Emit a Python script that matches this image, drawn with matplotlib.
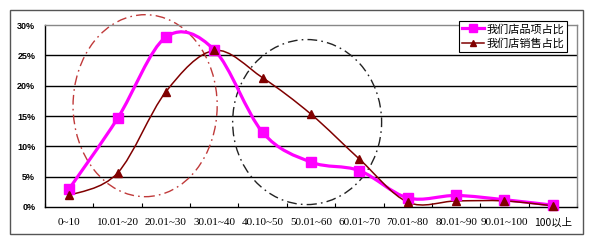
import matplotlib
matplotlib.use("Agg")
import matplotlib.pyplot as plt
import numpy as np
from matplotlib.path import Path
from matplotlib.patches import PathPatch, Ellipse, Rectangle
from matplotlib.lines import Line2D

# données
categories = ['0~10', '10.01~20', '20.01~30', '30.01~40', '40.10~50', '50.01~60',
              '60.01~70', '70.01~80', '80.01~90', '90.01~100', '100以上']
pinxiang = [3.0, 14.6, 28.0, 25.9, 12.3, 7.4, 6.0, 1.5, 1.9, 1.2, 0.3]
xiaoshou = [1.9, 5.6, 19.0, 25.8, 21.3, 15.3, 7.9, 0.8, 1.0, 1.0, 0.2]
yticks = [0, 5, 10, 15, 20, 25, 30]
noms = ['我们店品项占比', '我们店销售占比']

CJK = ['Noto Sans CJK SC', 'DejaVu Sans']
SERIF = ['Liberation Serif', 'Noto Sans CJK SC']


def courbe_lisse(x, y):
    # courbe de Bézier type "ligne lissée" d'Excel
    p = np.column_stack([x, y]).astype(float)
    n = len(p)
    verts = [p[0]]
    codes = [Path.MOVETO]
    for i in range(n - 1):
        p0 = p[i - 1] if i > 0 else p[i]
        p3 = p[i + 2] if i + 2 < n else p[i + 1]
        c1 = p[i] + (p[i + 1] - p0) / 6
        c2 = p[i + 1] - (p3 - p[i]) / 6
        verts += [c1, c2, p[i + 1]]
        codes += [Path.CURVE4] * 3
    return Path(verts, codes)


fig = plt.figure(figsize=(5.94, 2.41), dpi=100)
ax = fig.add_axes([45 / 594, 34 / 241, 532 / 594, 182 / 241])

# cadre extérieur
fig.patches.append(Rectangle((10 / 594, 7 / 241), 573 / 594, 224 / 241, transform=fig.transFigure,
                             fill=False, edgecolor='#555555', linewidth=1.0))

x = np.arange(len(categories))
ax.set_xlim(-0.5, len(categories) - 0.5)
ax.set_ylim(0, 30)

for v in yticks[1:-1]:
    ax.axhline(v, color='black', linewidth=1.0, zorder=1)

ax.add_patch(PathPatch(courbe_lisse(x, pinxiang), fill=False, edgecolor='#FF00FF',
                       linewidth=2.3, zorder=3))
ax.add_patch(PathPatch(courbe_lisse(x, xiaoshou), fill=False, edgecolor='#800000',
                       linewidth=1.1, zorder=4))
ax.plot(x, pinxiang, ls='none', marker='s', markersize=7, color='#FF00FF', zorder=5, clip_on=False)
ax.plot(x, xiaoshou, ls='none', marker='^', markersize=6, color='#800000', zorder=6, clip_on=False)

# ellipses d'annotation
ax.add_patch(Ellipse((1.57, 16.7), 2.98, 30.0, fill=False, edgecolor='#C03A3A',
                     linestyle=(0, (7, 3, 1.2, 3)), linewidth=1.0, clip_on=False, zorder=2))
ax.add_patch(Ellipse((4.92, 14.0), 3.08, 27.2, fill=False, edgecolor='#222222',
                     linestyle=(0, (7, 3, 1.2, 3)), linewidth=1.0, clip_on=False, zorder=2))

ax.set_yticks(yticks)
ax.set_yticklabels([f'{v}%' for v in yticks], fontsize=6.5, fontweight='bold', family='Liberation Sans')
ax.set_xticks(x)
ax.set_xticklabels(categories, fontsize=8, family=SERIF, va='center')
ax.get_xticklabels()[-1].set_family(CJK)
ax.get_xticklabels()[-1].set_fontsize(7.5)
ax.set_xticks(np.arange(len(categories) + 1) - 0.5, minor=True)
ax.tick_params(axis='x', which='major', length=0, pad=11.5)
ax.tick_params(axis='x', which='minor', length=3, direction='in', width=0.8)
ax.tick_params(axis='y', length=0, pad=7)

for s in ['left', 'bottom']:
    ax.spines[s].set_color('black')
    ax.spines[s].set_linewidth(1.0)
for s in ['top', 'right']:
    ax.spines[s].set_color('#888888')
    ax.spines[s].set_linewidth(1.0)

handles = [Line2D([], [], color='#FF00FF', linewidth=2.3, marker='s', markersize=6),
           Line2D([], [], color='#800000', linewidth=1.1, marker='^', markersize=5)]
leg = ax.legend(handles, noms, loc='upper right', bbox_to_anchor=(567 / 594, 220 / 241),
                bbox_transform=fig.transFigure, prop={'family': CJK, 'size': 8},
                frameon=True, fancybox=False, framealpha=1, edgecolor='black',
                handlelength=2.0, handletextpad=0.2, borderpad=0.25, labelspacing=0.35,
                borderaxespad=0)
leg.get_frame().set_linewidth(0.8)
leg.set_zorder(10)

plt.savefig('out.png', dpi=100)
